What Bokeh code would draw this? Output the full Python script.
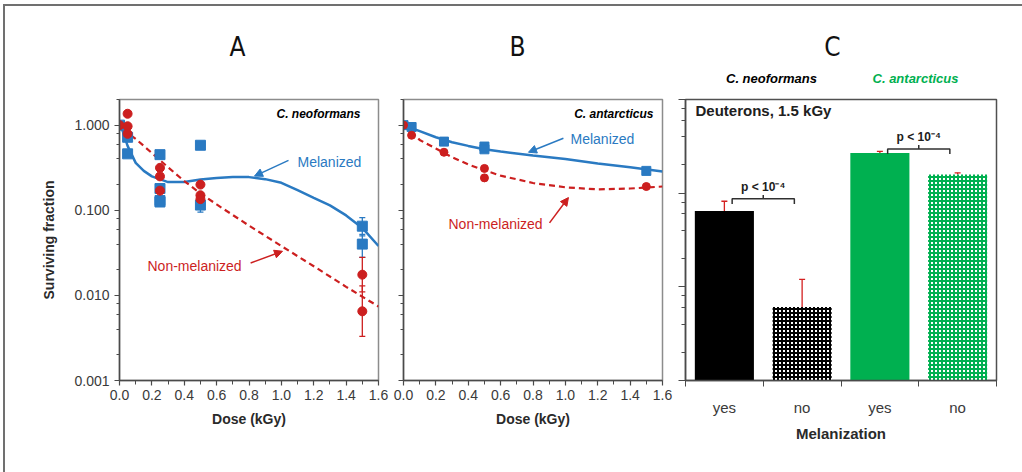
from bokeh.plotting import figure
from bokeh.layouts import row, column
from bokeh.models import (Range1d, FixedTicker, LogTicker, PrintfTickFormatter,
                          CustomJSTickFormatter, Label, Arrow, NormalHead,
                          Whisker, TeeHead, ColumnDataSource)
from bokeh.core.properties import value
from bokeh.embed import file_html
from bokeh.resources import INLINE

FONT = "Liberation Sans"
BLUE = "#2a7ac2"
RED = "#cc1f1f"
GREEN = "#00b050"
AXIS = "#4a4a4a"

# ---------------- Panel A: C. neoformans survival vs dose ----------------
a_mel_dose = [0.0, 0.05, 0.05, 0.25, 0.25, 0.25, 0.25, 0.5, 0.5, 1.5, 1.5]
a_mel_surv = [1.0, 0.72, 0.46, 0.45, 0.18, 0.13, 0.125, 0.58, 0.115, 0.065, 0.040]
a_non_dose = [0.0, 0.05, 0.05, 0.05, 0.25, 0.25, 0.25, 0.5, 0.5, 0.5, 1.5, 1.5]
a_non_surv = [1.0, 1.36, 0.97, 0.79, 0.315, 0.25, 0.17, 0.20, 0.15, 0.135, 0.0175, 0.0065]

a_mel_err_dose = [0.5, 1.5, 1.5]
a_mel_err_lo = [0.095, 0.050, 0.028]
a_mel_err_hi = [0.135, 0.082, 0.052]
a_non_err_dose = [1.5, 1.5]
a_non_err_lo = [0.011, 0.0033]
a_non_err_hi = [0.028, 0.0129]

a_mel_fit_dose = [0.0, 0.02, 0.05, 0.1, 0.15, 0.2, 0.3, 0.4, 0.5, 0.6, 0.7, 0.8,
                  0.9, 1.0, 1.1, 1.2, 1.3, 1.4, 1.5, 1.6]
a_mel_fit_surv = [1.0, 0.85, 0.57, 0.36, 0.29, 0.25, 0.214, 0.215, 0.23, 0.24, 0.245,
                  0.245, 0.232, 0.21, 0.172, 0.14, 0.114, 0.087, 0.062, 0.038]
a_non_fit_dose = [0.02, 0.1, 0.2, 0.3, 0.4, 0.5, 0.6, 0.8, 1.0, 1.2, 1.4, 1.6]
a_non_fit_surv = [0.89, 0.69, 0.47, 0.32, 0.22, 0.158, 0.117, 0.066, 0.038, 0.022,
                  0.0126, 0.0074]

# ---------------- Panel B: C. antarcticus survival vs dose ----------------
b_mel_dose = [0.0, 0.05, 0.25, 0.5, 0.5, 1.5]
b_mel_surv = [1.0, 0.95, 0.64, 0.56, 0.52, 0.29]
b_non_dose = [0.0, 0.05, 0.25, 0.5, 0.5, 1.5]
b_non_surv = [1.0, 0.76, 0.48, 0.31, 0.24, 0.19]

b_mel_fit_dose = [0.0, 0.1, 0.2, 0.3, 0.4, 0.5, 0.6, 0.8, 1.0, 1.2, 1.4, 1.6]
b_mel_fit_surv = [1.0, 0.85, 0.72, 0.63, 0.57, 0.52, 0.49, 0.44, 0.40, 0.355, 0.32, 0.286]
b_non_fit_dose = [0.0, 0.1, 0.2, 0.3, 0.4, 0.5, 0.6, 0.8, 1.0, 1.2, 1.4, 1.6]
b_non_fit_surv = [1.0, 0.67, 0.53, 0.42, 0.345, 0.295, 0.255, 0.209, 0.186, 0.176, 0.18, 0.19]

dose_ticks = [0.0, 0.2, 0.4, 0.6, 0.8, 1.0, 1.2, 1.4, 1.6]
dose_minor = [0.1, 0.3, 0.5, 0.7, 0.9, 1.1, 1.3, 1.5]

# ---------------- Panel C: deuterons, 1.5 kGy ----------------
melan_labels = ["yes", "no", "yes", "no"]
bar_vals = [0.0645, 0.0061, 0.269, 0.158]
bar_lo = [0.0515, 0.0031, 0.26, 0.149]
bar_hi = [0.082, 0.012, 0.28, 0.165]
bar_colors = ["black", "black", GREEN, GREEN]
bar_hatch = ["blank", "cross", "blank", "cross"]
species = ["C. neoformans", "C. antarcticus"]
species_colors = ["black", GREEN]
panel_letters = ["A", "B", "C"]
p_text = "p < 10\u207b\u2074"

HEADER_H = 88


def style_axes(p):
    p.grid.visible = False
    p.background_fill_color = "white"
    p.border_fill_color = "white"
    for ax in p.axis:
        ax.axis_line_color = AXIS
        ax.axis_line_width = 1.5
        ax.major_tick_line_color = AXIS
        ax.minor_tick_line_color = AXIS
        ax.major_tick_line_width = 1.2
        ax.minor_tick_line_width = 1.0
        ax.major_tick_in = 0
        ax.minor_tick_in = 0
        ax.major_tick_out = 5
        ax.minor_tick_out = 3
        ax.major_label_text_font = FONT
        ax.major_label_text_font_size = "14px"
        ax.major_label_text_color = "#3a3a3a"
        ax.axis_label_text_font = FONT
        ax.axis_label_text_font_style = "bold"
        ax.axis_label_text_font_size = "14px"
        ax.axis_label_text_color = "#2a2a2a"


def dose_panel(width, left, right, show_y):
    p = figure(width=width, height=466 - HEADER_H, y_axis_type="log",
               x_range=Range1d(0, 1.6), y_range=Range1d(0.001, 2.0),
               output_backend="svg", toolbar_location=None,
               min_border_left=left, min_border_right=right,
               min_border_top=93 - HEADER_H, min_border_bottom=92)
    style_axes(p)
    p.outline_line_color = "#8c8c8c"
    p.outline_line_width = 1.5
    xa = p.xaxis[0]
    xa.ticker = FixedTicker(ticks=dose_ticks, minor_ticks=dose_minor)
    xa.formatter = PrintfTickFormatter(format="%.1f")
    xa.major_label_standoff = 4
    xa.axis_label = "Dose (kGy)"
    xa.axis_label_standoff = 8
    xa.minor_tick_out = 4
    ya = p.yaxis[0]
    ya.ticker = LogTicker()
    ya.minor_tick_out = 3
    if show_y:
        ya.formatter = PrintfTickFormatter(format="%.3f")
        ya.axis_label = "Surviving fraction"
        ya.major_label_standoff = 5
        ya.axis_label_standoff = 14
    else:
        ya.formatter = CustomJSTickFormatter(code="return ''")
    return p


def screen_label(p, x, y, text, color="black", size="14px", style="normal",
                 align="left", font=FONT):
    p.add_layout(Label(x=x, y=y, x_units="screen", y_units="screen", text=text,
                       text_color=color, text_font=font,
                       text_font_size=size, text_font_style=style,
                       text_align=align, text_baseline="middle"))


def add_arrow(p, xs, ys, xe, ye, color):
    p.add_layout(Arrow(x_start=xs, y_start=ys, x_end=xe, y_end=ye,
                       line_color=color, line_width=1.5,
                       end=NormalHead(size=8, fill_color=color, line_color=color)))


def add_errors(p, xs, lo, hi, color):
    src = ColumnDataSource(dict(x=xs, lo=lo, hi=hi))
    p.add_layout(Whisker(source=src, base="x", lower="lo", upper="hi",
                         dimension="height", line_color=color, line_width=1.3,
                         upper_head=TeeHead(size=6, line_color=color, line_width=1.3),
                         lower_head=TeeHead(size=6, line_color=color, line_width=1.3)))


# ----- header strip: panel letters and species names above panel C -----
hd = figure(width=1017, height=HEADER_H, x_range=Range1d(0, 1017),
            y_range=Range1d(HEADER_H, 0), output_backend="svg",
            toolbar_location=None, min_border=0)
hd.axis.visible = False
hd.grid.visible = False
hd.outline_line_color = None
hd.text(x=[232, 512, 827], y=[40, 40, 40], text=panel_letters,
        text_font=value("DejaVu Sans Condensed"), text_font_size="26px",
        text_align="center", text_baseline="middle", text_color="#111111")
hd.text(x=[766, 910], y=[72, 72], text=species, text_color=species_colors,
        text_font=value(FONT), text_font_size="13px",
        text_font_style="bold italic", text_align="center",
        text_baseline="middle")

# ----- Panel A -----
pa = dose_panel(387, 114, 14, True)
pa.line(a_mel_fit_dose, a_mel_fit_surv, line_color=BLUE, line_width=2.5)
pa.line(a_non_fit_dose, a_non_fit_surv, line_color=RED, line_width=2.2,
        line_dash="6 4")
add_errors(pa, a_mel_err_dose, a_mel_err_lo, a_mel_err_hi, BLUE)
add_errors(pa, a_non_err_dose, a_non_err_lo, a_non_err_hi, RED)
pa.scatter(a_mel_dose, a_mel_surv, marker="square", size=10, fill_color=BLUE,
           line_color=BLUE)
pa.scatter(a_non_dose, a_non_surv, marker="circle", size=9, fill_color=RED,
           line_color=RED)
add_arrow(pa, 1.044, 0.385, 0.834, 0.252, BLUE)
add_arrow(pa, 0.81, 0.024, 1.007, 0.033, RED)
screen_label(pa, 241, 267, "C. neoformans", size="12px", style="bold italic",
             align="right")
screen_label(pa, 178, 219, "Melanized", color=BLUE)
screen_label(pa, 28, 115, "Non-melanized", color=RED)

# ----- Panel B -----
pb = dose_panel(283, 11, 13, False)
pb.line(b_mel_fit_dose, b_mel_fit_surv, line_color=BLUE, line_width=2.5)
pb.line(b_non_fit_dose, b_non_fit_surv, line_color=RED, line_width=2.2,
        line_dash="6 4")
pb.scatter(b_mel_dose, b_mel_surv, marker="square", size=9, fill_color=BLUE,
           line_color=BLUE)
pb.scatter(b_non_dose, b_non_surv, marker="circle", size=8, fill_color=RED,
           line_color=RED)
add_arrow(pb, 0.988, 0.70, 0.772, 0.48, BLUE)
add_arrow(pb, 0.902, 0.071, 1.019, 0.141, RED)
screen_label(pb, 250, 267, "C. antarcticus", size="12px", style="bold italic",
             align="right")
screen_label(pb, 167, 242, "Melanized", color=BLUE)
screen_label(pb, 45, 157, "Non-melanized", color=RED)

# ----- Panel C -----
pc = figure(width=347, height=466 - HEADER_H, y_axis_type="log",
            x_range=Range1d(0, 4), y_range=Range1d(0.001, 1.0),
            output_backend="svg", toolbar_location=None,
            min_border_left=10, min_border_right=26,
            min_border_top=93 - HEADER_H, min_border_bottom=84)
style_axes(pc)
pc.outline_line_color = "#505050"
pc.outline_line_width = 1.5
bar_x = [i + 0.5 for i in range(len(bar_vals))]
# hatched bars: white ground with a dense coloured grid; solid bars: plain fill
bar_fill = [c if h == "blank" else "white" for c, h in zip(bar_colors, bar_hatch)]
bars = ColumnDataSource(dict(x=bar_x, top=bar_vals, fill=bar_fill,
                             color=bar_colors, hatch=bar_hatch))
pc.vbar(x="x", top="top", bottom=pc.y_range.start, width=0.76, source=bars,
        fill_color="fill", line_color=None, hatch_pattern="hatch",
        hatch_color="color", hatch_scale=4, hatch_weight=2)
add_errors(pc, bar_x, bar_lo, bar_hi, "#d42020")

# significance brackets between each melanized / non-melanized pair
for i in range(0, len(bar_vals), 2):
    c = bar_x[i] + 0.5
    yb = max(bar_hi[i], bar_hi[i + 1]) * 1.06
    pc.line([c - 0.4, c - 0.4, c + 0.4, c + 0.4], [yb * 0.88, yb, yb, yb * 0.88],
            line_color="#303030", line_width=1.5)
    pc.line([c, c], [yb, yb * 1.1], line_color="#303030", line_width=1.5)
    pc.add_layout(Label(x=c, y=yb * 1.1, text=p_text, text_align="center",
                        text_baseline="bottom", y_offset=1,
                        text_font=FONT, text_font_size="12px",
                        text_font_style="bold", text_color="#202020"))

xa = pc.xaxis[0]
xa.ticker = FixedTicker(ticks=bar_x, minor_ticks=[0, 1, 2, 3, 4])
xa.formatter = CustomJSTickFormatter(args=dict(labels=melan_labels),
                                     code="return labels[Math.floor(tick)]")
xa.major_tick_out = 0
xa.minor_tick_out = 6
xa.major_label_text_font_size = "15px"
xa.major_label_standoff = 12
xa.axis_label = "Melanization"
xa.axis_label_text_font_size = "15px"
xa.axis_label_standoff = 6
ya = pc.yaxis[0]
ya.ticker = LogTicker()
ya.formatter = CustomJSTickFormatter(code="return ''")
ya.major_tick_out = 7
ya.minor_tick_out = 4

screen_label(pc, 10, 270, "Deuterons, 1.5 kGy", size="15px", style="bold",
             color="#202020")

layout = column(hd, row(pa, pb, pc),
                styles={"border-top": "2px solid #707070",
                        "border-left": "2px solid #707070",
                        "margin-top": "4px", "margin-left": "3px"})

open("out.html", "w").write(file_html(layout, INLINE))
